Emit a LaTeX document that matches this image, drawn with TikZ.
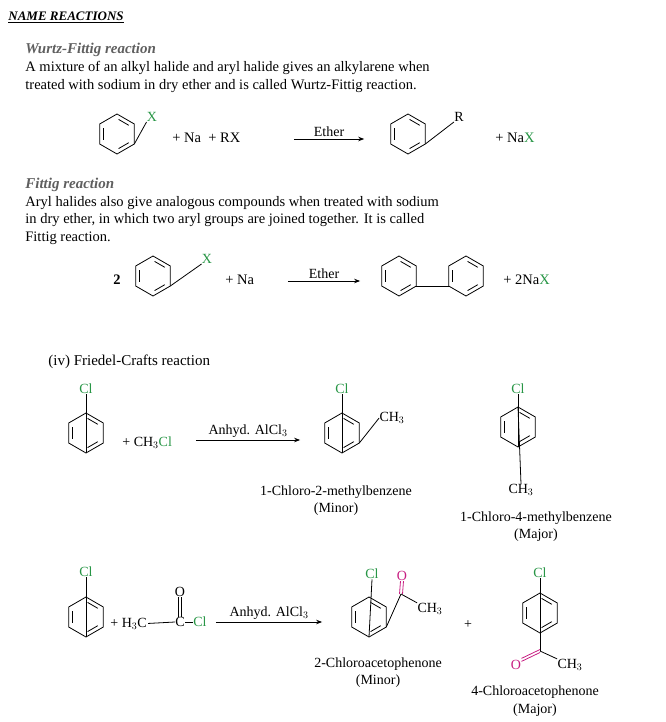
\documentclass[tikz,border=0pt]{standalone}
\usepackage{fontspec}
\setmainfont{Liberation Serif}
\usetikzlibrary{calc,arrows.meta}
\definecolor{grn}{RGB}{40,150,70}
\definecolor{mag}{RGB}{200,30,130}
\definecolor{hd}{RGB}{95,95,95}
\begin{document}
\begin{tikzpicture}[x=1pt,y=-1pt,line width=0.8pt,
  txt/.style={anchor=base west,inner sep=0pt,font=\fontsize{14.5}{17}\selectfont},
  lbl/.style={inner sep=0pt,font=\fontsize{14}{16}\selectfont},
  hdg/.style={anchor=base west,inner sep=0pt,text=hd,font=\fontsize{15}{17}\selectfont\bfseries\itshape},
  arr/.style={-{Stealth[length=6pt]},line width=0.8pt},
  benz/.pic={
    \coordinate (-v90) at (90:20);
    \coordinate (-v150) at (150:20);
    \coordinate (-v210) at (210:20);
    \coordinate (-v270) at (270:20);
    \coordinate (-v330) at (330:20);
    \coordinate (-v30) at (30:20);
    \draw (-v90)--(-v150)--(-v210)--(-v270)--(-v330)--(-v30)--cycle;
    \draw ($(150:15.5)!0.12!(210:15.5)$)--($(150:15.5)!0.88!(210:15.5)$);
    \draw ($(270:15.5)!0.12!(330:15.5)$)--($(270:15.5)!0.88!(330:15.5)$);
    \draw ($(30:15.5)!0.12!(90:15.5)$)--($(30:15.5)!0.88!(90:15.5)$);
  }]
\useasboundingbox (0,0) rectangle (665,722);
% headings and text
\node[anchor=base west,inner sep=0pt,font=\fontsize{13}{15}\selectfont\bfseries\itshape] (t0) at (8,21) {\underline{NAME REACTIONS}};
\node[hdg] (h1) at (25,54) {Wurtz-Fittig reaction};
\node[txt] (l1) at (25,72) {A mixture of an alkyl halide and aryl halide gives an alkylarene when};
\node[txt] (l2) at (25,90) {treated with sodium in dry ether and is called Wurtz-Fittig reaction.};
% eq1
\pic (b1) at (117,134) {benz};
\node[lbl,text=grn] (x1) at (152,117) {X};
\draw (b1-v30)--(x1.south west);
\node[txt] (p1) at (172,143) {+\ Na\ \ + RX};
\node[anchor=west,inner sep=0pt] (a1s) at (292,139) {};
\node[anchor=east,inner sep=0pt] (a1e) at (366,139) {};
\draw[arr] (a1s)--(a1e) node[midway,above=2pt,lbl]{Ether};
\pic (b2) at (408,134) {benz};
\node[lbl] (r1) at (459,117) {R};
\draw (b2-v30)--(r1.south west);
\node[txt] (p2) at (495,143) {+\ Na\textcolor{grn}{X}};
% fittig
\node[hdg] (h2) at (25,188) {Fittig reaction};
\node[txt] (l3) at (25,206) {Aryl halides also give analogous compounds when treated with sodium};
\node[txt] (l4) at (25,223) {in dry ether, in which two aryl groups are joined together. It is called};
\node[txt] (l5) at (25,241) {Fittig reaction.};
\node[txt] (two) at (113,284) {\bfseries 2};
\pic (b3) at (153,276) {benz};
\node[lbl,text=grn] (x2) at (207,259) {X};
\draw (b3-v30)--(x2.south west);
\node[txt] (p3) at (225,284) {+\ Na};
\node[inner sep=0pt] (a2s) at (287,281) {};
\node[inner sep=0pt] (a2e) at (361,281) {};
\draw[arr] (a2s)--(a2e) node[midway,above=2pt,lbl]{Ether};
\pic (b4) at (399,276) {benz};
\pic (b5) at (466,276) {benz};
\draw (b4-v30)--(b5-v150);
\node[txt] (p4) at (503,284) {+ 2Na\textcolor{grn}{X}};
% Friedel-Crafts
\node[anchor=base west,inner sep=0pt,font=\fontsize{15}{17}\selectfont] (h3) at (48,365) {(iv) Friedel-Crafts reaction};
\pic (c1) at (86,433) {benz};
\node[lbl,text=grn] (cl1) at (86,389) {Cl};
\draw (c1-v90)--(cl1.south);
\node[txt,font=\fontsize{14}{16}\selectfont] (p5) at (122,446) {+ CH$_3$\textcolor{grn}{Cl}};
\node[inner sep=0pt] (a3s) at (195,440) {};
\node[inner sep=0pt] (a3e) at (301,440) {};
\draw[arr] (a3s)--(a3e) node[midway,above=2pt,lbl]{Anhyd. AlCl$_3$};
\pic (c2) at (342,433) {benz};
\node[lbl,text=grn] (cl2) at (342,389) {Cl};
\draw (c2-v90)--(cl2.south);
\node[lbl] (me1) at (392,418) {CH$_3$};
\draw (c2-v30)--(me1.west);
\pic (c3) at (518,427) {benz};
\node[lbl,text=grn] (cl3) at (518,389) {Cl};
\draw (c3-v90)--(cl3.south);
\node[lbl] (me2) at (521,490) {CH$_3$};
\draw (c3-v270)--(me2.north);
\node[lbl] (n1) at (336,492) {1-Chloro-2-methylbenzene};
\node[lbl] (n2) at (336,509) {(Minor)};
\node[lbl] (n3) at (536,518) {1-Chloro-4-methylbenzene};
\node[lbl] (n4) at (536,535) {(Major)};
% acylation
\pic (d1) at (86,617) {benz};
\node[lbl,text=grn] (cl4) at (86,572) {Cl};
\draw (d1-v90)--(cl4.south);
\node[txt,font=\fontsize{14}{16}\selectfont] (p6) at (110,627) {+ H$_3$C};
\node[lbl] (cc) at (180,622) {C};
\node[lbl] (o1) at (180,592) {O};
\node[lbl,text=grn] (cl5) at (200,622) {Cl};
\draw ([xshift=-1.5pt]cc.north)--([xshift=-1.5pt]o1.south);
\draw ([xshift=1.5pt]cc.north)--([xshift=1.5pt]o1.south);
\draw ([xshift=1pt]p6.east)--(cc.west);
\draw (cc.east)--(cl5.west);
\node[inner sep=0pt] (a4s) at (215,622) {};
\node[inner sep=0pt] (a4e) at (323,622) {};
\draw[arr] (a4s)--(a4e) node[midway,above=2pt,lbl]{Anhyd. AlCl$_3$};
\pic (d2) at (369,617) {benz};
\node[lbl,text=grn] (cl6) at (372,574) {Cl};
\draw (d2-v90)--(cl6.south);
\coordinate (k1) at (401,594);
\node[lbl,text=mag] (o2) at (402,576) {O};
\draw (d2-v30)--(k1);
\draw[mag] ([xshift=-1.5pt]k1)--([xshift=-1.5pt]o2.south);
\draw[mag] ([xshift=1.5pt]k1)--([xshift=1.5pt]o2.south);
\node[lbl] (me3) at (430,609) {CH$_3$};
\draw (k1)--(me3.north west);
\node[lbl] (plus) at (468,625) {+};
\pic (d3) at (540,613) {benz};
\node[lbl,text=grn] (cl7) at (540,573) {Cl};
\draw (d3-v90)--(cl7.south);
\coordinate (k2) at (540,651);
\draw (d3-v270)--(k2);
\node[lbl,text=mag] (o3) at (516,665) {O};
\draw[mag] ([yshift=-1.5pt]k2)--([yshift=-1.5pt]o3.north east);
\draw[mag] ([yshift=1.5pt]k2)--([yshift=1.5pt]o3.north east);
\node[lbl] (me4) at (570,665) {CH$_3$};
\draw (k2)--(me4.north west);
\node[lbl] (n5) at (378,664) {2-Chloroacetophenone};
\node[lbl] (n6) at (378,681) {(Minor)};
\node[lbl] (n7) at (535,692) {4-Chloroacetophenone};
\node[lbl] (n8) at (535,710) {(Major)};
\end{tikzpicture}
\end{document}
